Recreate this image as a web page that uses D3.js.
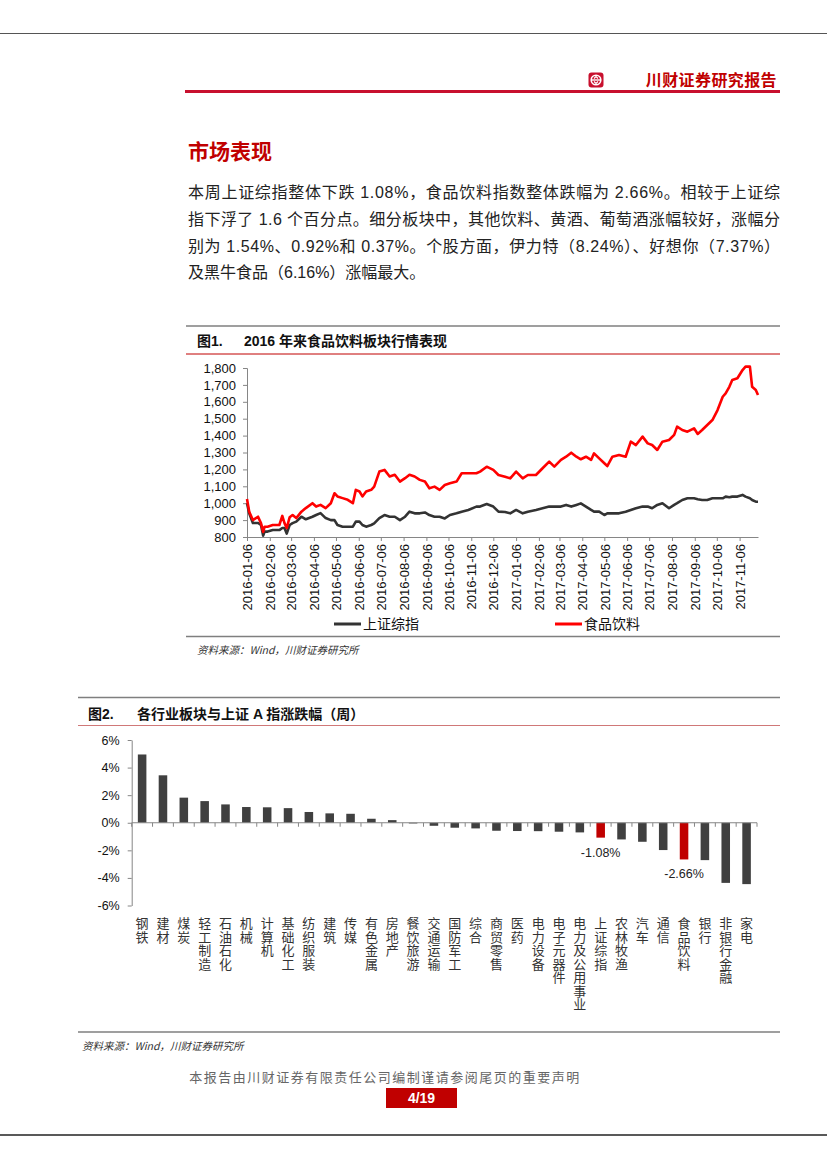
<!DOCTYPE html>
<html>
<head>
<meta charset="utf-8">
<script src="https://cdn.jsdelivr.net/npm/d3@7"></script>
<style>
  body { margin: 0; background: #fff; }
  svg text { font-family: "Liberation Sans", "Noto Sans CJK SC", sans-serif; }
  .vlabel { writing-mode: vertical-rl; text-orientation: upright; }
</style>
</head>
<body>
<svg id="page" width="827" height="1169"></svg>
<script>
// ---- 图1 数据：2016年来 上证综指 / 食品饮料 ----
const dates = [
  '2016-01-06','2016-01-09','2016-01-14','2016-01-21','2016-01-25','2016-01-28','2016-01-30','2016-02-03',
  '2016-02-10','2016-02-19','2016-02-23','2016-02-26','2016-02-29','2016-03-04','2016-03-08','2016-03-13',
  '2016-03-20','2016-03-26','2016-04-04','2016-04-09','2016-04-15','2016-04-22','2016-04-29','2016-05-04',
  '2016-05-08','2016-05-15','2016-05-22','2016-05-29','2016-06-02','2016-06-07','2016-06-11','2016-06-16',
  '2016-06-23','2016-06-27','2016-07-04','2016-07-11','2016-07-18','2016-07-25','2016-08-01','2016-08-08',
  '2016-08-14','2016-08-21','2016-08-28','2016-09-04','2016-09-10','2016-09-17','2016-09-24','2016-10-01',
  '2016-10-08','2016-10-17','2016-10-24','2016-11-02','2016-11-13','2016-11-18','2016-11-27','2016-12-06',
  '2016-12-13','2016-12-22','2016-12-29','2017-01-06','2017-01-15','2017-01-22','2017-02-02','2017-02-11',
  '2017-02-20','2017-02-27','2017-03-08','2017-03-15','2017-03-22','2017-03-29','2017-04-04','2017-04-11',
  '2017-04-18','2017-04-22','2017-04-29','2017-05-06','2017-05-10','2017-05-17','2017-05-26','2017-06-04',
  '2017-06-11','2017-06-18','2017-06-27','2017-07-04','2017-07-10','2017-07-17','2017-07-24','2017-08-02',
  '2017-08-09','2017-08-13','2017-08-20','2017-08-27','2017-09-05','2017-09-10','2017-09-16','2017-09-23',
  '2017-09-30','2017-10-07','2017-10-14','2017-10-18','2017-10-23','2017-10-27','2017-11-03','2017-11-10',
  '2017-11-14','2017-11-20','2017-11-23','2017-11-28','2017-12-01'
];
const szIndex = [
  1000, 940, 883, 883, 871, 808, 832, 832, 841, 841, 853, 853, 820, 871, 882, 891,
  920, 905, 920, 930, 941, 912, 900, 900, 871, 861, 861, 861, 891, 891, 871, 861,
  871, 881, 912, 930, 920, 920, 900, 920, 950, 940, 940, 945, 930, 920, 920, 910,
  930, 940, 950, 960, 980, 980, 995, 980, 950, 948, 940, 960, 940, 950, 960, 970,
  980, 980, 980, 990, 980, 990, 999, 980, 960, 950, 950, 930, 940, 940, 940, 950,
  960, 970, 980, 980, 970, 990, 1000, 970, 990, 1000, 1019, 1029, 1029, 1023, 1019, 1019,
  1029, 1029, 1029, 1039, 1035, 1039, 1039, 1049, 1039, 1029, 1019, 1009, 1009
];
const fbIndex = [
  1025, 950, 900, 920, 882, 830, 861, 861, 871, 871, 925, 882, 853, 917, 930, 912,
  950, 971, 1000, 980, 990, 971, 1000, 1059, 1040, 1030, 1020, 1000, 1079, 1069, 1040, 1069,
  1079, 1098, 1187, 1197, 1158, 1168, 1128, 1148, 1168, 1158, 1138, 1128, 1088, 1098, 1079, 1108,
  1118, 1128, 1177, 1177, 1177, 1187, 1216, 1197, 1167, 1157, 1147, 1187, 1147, 1167, 1167, 1207,
  1246, 1216, 1256, 1275, 1299, 1275, 1260, 1275, 1256, 1295, 1265, 1236, 1220, 1275, 1285, 1275,
  1364, 1344, 1394, 1354, 1344, 1315, 1364, 1374, 1404, 1453, 1433, 1423, 1443, 1410, 1433, 1463,
  1492, 1551, 1630, 1650, 1689, 1729, 1739, 1788, 1808, 1808, 1689, 1670, 1640
];
const dateTicks = [
  '2016-01-06','2016-02-06','2016-03-06','2016-04-06','2016-05-06','2016-06-06','2016-07-06','2016-08-06',
  '2016-09-06','2016-10-06','2016-11-06','2016-12-06','2017-01-06','2017-02-06','2017-03-06','2017-04-06',
  '2017-05-06','2017-06-06','2017-07-06','2017-08-06','2017-09-06','2017-10-06','2017-11-06'
];
const lineTicks = [800, 900, 1000, 1100, 1200, 1300, 1400, 1500, 1600, 1700, 1800];
const seriesNames = ['上证综指', '食品饮料'];

// ---- 图2 数据：各行业板块周涨跌幅 (%) ----
const industries = ['钢铁','建材','煤炭','轻工制造','石油石化','机械','计算机','基础化工','纺织服装','建筑',
  '传媒','有色金属','房地产','餐饮旅游','交通运输','国防军工','综合','商贸零售','医药','电力设备',
  '电子元器件','电力及公用事业','上证综指','农林牧渔','汽车','通信','食品饮料','银行','非银行金融','家电'];
const weeklyChange = [4.95, 3.44, 1.82, 1.57, 1.33, 1.14, 1.12, 1.06, 0.78, 0.68,
  0.65, 0.29, 0.19, -0.05, -0.22, -0.36, -0.41, -0.58, -0.60, -0.61,
  -0.65, -0.70, -1.08, -1.21, -1.38, -1.98, -2.66, -2.71, -4.36, -4.45];
const highlighted = ['上证综指', '食品饮料'];
const barTicks = [-6, -4, -2, 0, 2, 4, 6];

const svg = d3.select('#page');
const RED = '#c00000';

// ---------- 页眉 ----------
svg.append('line').attr('x1', 0).attr('x2', 827).attr('y1', 33.5).attr('y2', 33.5)
  .attr('stroke', '#555').attr('stroke-width', 1);
const logo = svg.append('g').attr('transform', 'translate(596,80)');
logo.append('rect').attr('x', -7.5).attr('y', -7.5).attr('width', 15).attr('height', 15).attr('rx', 3).attr('fill', '#c8102e');
logo.append('circle').attr('r', 4.8).attr('fill', 'none').attr('stroke', '#fff').attr('stroke-width', 1.6);
logo.append('line').attr('x1', -4.5).attr('x2', 4.5).attr('stroke', '#fff').attr('stroke-width', 1.4);
logo.append('path').attr('d', 'M-2,-1.5 L0,-3.5 L2,-1.5 M-2,1.5 L0,3.5 L2,1.5').attr('fill', 'none').attr('stroke', '#fff').attr('stroke-width', 1.2);
svg.append('text').attr('x', 777).attr('y', 86).attr('text-anchor', 'end')
  .attr('font-size', 16).attr('font-weight', 'bold').attr('fill', RED)
  .attr('letter-spacing', 0.4).text('川财证券研究报告');
svg.append('rect').attr('x', 185).attr('y', 90).attr('width', 595).attr('height', 3).attr('fill', '#c8102e');

// ---------- 正文 ----------
svg.append('text').attr('x', 188).attr('y', 159).attr('font-size', 21).attr('font-weight', 'bold')
  .attr('fill', RED).text('市场表现');
const para = [
  '本周上证综指整体下跌 1.08%，食品饮料指数整体跌幅为 2.66%。相较于上证综',
  '指下浮了 1.6 个百分点。细分板块中，其他饮料、黄酒、葡萄酒涨幅较好，涨幅分',
  '别为 1.54%、0.92%和 0.37%。个股方面，伊力特（8.24%）、好想你（7.37%）',
  '及黑牛食品（6.16%）涨幅最大。'
];
para.forEach((t, i) => {
  const tx = svg.append('text').attr('x', 188).attr('y', 198 + i * 26.8)
    .attr('font-size', 16).attr('fill', '#222').text(t);
  if (i < 3) tx.attr('textLength', 592).attr('lengthAdjust', 'spacing');
});

// ---------- 图1 ----------
svg.append('line').attr('x1', 186).attr('x2', 780).attr('y1', 326).attr('y2', 326).attr('stroke', '#7f7f7f').attr('stroke-width', 1.5);
svg.append('text').attr('x', 197).attr('y', 346).attr('font-size', 14).attr('font-weight', 'bold').attr('fill', '#111').text('图1.');
svg.append('text').attr('x', 244).attr('y', 346).attr('font-size', 14).attr('font-weight', 'bold').attr('fill', '#111').text('2016 年来食品饮料板块行情表现');
svg.append('line').attr('x1', 186).attr('x2', 780).attr('y1', 354).attr('y2', 354).attr('stroke', RED).attr('stroke-width', 1);

const parse = d3.timeParse('%Y-%m-%d');
const x1 = d3.scaleTime().domain([parse('2016-01-06'), parse('2017-12-01')]).range([247, 758]);
const y1 = d3.scaleLinear().domain([800, 1800]).range([537, 368]);

const gy1 = svg.append('g').attr('transform', 'translate(247,0)')
  .call(d3.axisLeft(y1).tickValues(lineTicks).tickFormat(d3.format(',')).tickSize(4).tickPadding(7));
const gx1 = svg.append('g').attr('transform', 'translate(0,537)')
  .call(d3.axisBottom(x1).tickValues(dateTicks.map(parse)).tickFormat(d3.timeFormat('%Y-%m-%d')).tickSize(4).tickSizeOuter(0));
gx1.selectAll('text').attr('transform', 'rotate(-90)').attr('text-anchor', 'end')
  .attr('x', -7).attr('y', 0).attr('dy', '0.36em');
[gy1, gx1].forEach(g => {
  g.selectAll('path, line').attr('stroke', '#868686');
  g.selectAll('text').attr('font-size', 13).attr('fill', '#111')
    .style('font-family', '"Liberation Sans", sans-serif');
});

const series = [
  {name: seriesNames[0], values: szIndex, color: '#333333'},
  {name: seriesNames[1], values: fbIndex, color: '#ff0000'}
];
const line = d3.line().x((d, i) => x1(parse(dates[i]))).y(d => y1(d)).curve(d3.curveLinear);
series.forEach(s => {
  svg.append('path').datum(s.values).attr('d', line)
    .attr('fill', 'none').attr('stroke', s.color).attr('stroke-width', 2.6).attr('stroke-linejoin', 'round');
});

// 图例
const legendX = [334, 555];
series.forEach((s, i) => {
  svg.append('line').attr('x1', legendX[i]).attr('x2', legendX[i] + 27).attr('y1', 624).attr('y2', 624)
    .attr('stroke', s.color).attr('stroke-width', 3);
  svg.append('text').attr('x', legendX[i] + 29).attr('y', 629).attr('font-size', 14).attr('fill', '#111')
    .style('font-family', '"Noto Sans CJK SC", sans-serif').text(s.name);
});
svg.append('line').attr('x1', 186).attr('x2', 780).attr('y1', 636.5).attr('y2', 636.5).attr('stroke', '#7f7f7f').attr('stroke-width', 1.5);
svg.append('text').attr('x', 197).attr('y', 654).attr('font-size', 10.5).attr('font-style', 'italic').attr('fill', '#333')
  .style('font-family', '"Noto Sans CJK SC", sans-serif').text('资料来源：Wind，川财证券研究所');

// ---------- 图2 ----------
svg.append('line').attr('x1', 78).attr('x2', 780).attr('y1', 697.5).attr('y2', 697.5).attr('stroke', '#7f7f7f').attr('stroke-width', 1.5);
svg.append('text').attr('x', 88).attr('y', 719).attr('font-size', 14).attr('font-weight', 'bold').attr('fill', '#111').text('图2.');
svg.append('text').attr('x', 137).attr('y', 719).attr('font-size', 14).attr('font-weight', 'bold').attr('fill', '#111').text('各行业板块与上证 A 指涨跌幅（周）');
svg.append('line').attr('x1', 78).attr('x2', 780).attr('y1', 725.5).attr('y2', 725.5).attr('stroke', '#d07878').attr('stroke-width', 1);

const x2 = d3.scaleBand().domain(industries).range([131.7, 757]).paddingInner(0.59).paddingOuter(0.295);
const y2 = d3.scaleLinear().domain([-6, 6]).range([905.5, 740]);

const gy2 = svg.append('g').attr('transform', 'translate(131.7,0)')
  .call(d3.axisLeft(y2).tickValues(barTicks).tickFormat(d => d + '%').tickSize(4).tickPadding(8).tickSizeOuter(0));
gy2.selectAll('path, line').attr('stroke', '#868686');
gy2.selectAll('text').attr('font-size', 12.5).attr('fill', '#111');

svg.append('g').selectAll('rect').data(industries).enter().append('rect')
  .attr('x', d => x2(d))
  .attr('width', x2.bandwidth())
  .attr('y', (d, i) => y2(Math.max(0, weeklyChange[i])))
  .attr('height', (d, i) => Math.abs(y2(weeklyChange[i]) - y2(0)))
  .attr('fill', d => highlighted.includes(d) ? RED : '#404040');

// 零轴及分类刻度
const zeroY = y2(0);
svg.append('line').attr('x1', 131.7).attr('x2', 757).attr('y1', zeroY).attr('y2', zeroY).attr('stroke', '#868686');
svg.append('g').selectAll('line').data(d3.range(industries.length + 1)).enter().append('line')
  .attr('x1', i => 131.7 + i * x2.step()).attr('x2', i => 131.7 + i * x2.step())
  .attr('y1', zeroY).attr('y2', zeroY + 4).attr('stroke', '#868686');

// 数据标签
highlighted.forEach(name => {
  const i = industries.indexOf(name);
  svg.append('text').attr('x', x2(name) + x2.bandwidth() / 2).attr('y', y2(weeklyChange[i]) + 19)
    .attr('text-anchor', 'middle').attr('font-size', 12.5).attr('fill', '#222')
    .text(weeklyChange[i].toFixed(2) + '%');
});

// 竖排分类标签
svg.append('g').selectAll('text').data(industries).enter().append('text')
  .attr('class', 'vlabel')
  .attr('x', d => x2(d) + x2.bandwidth() / 2)
  .attr('y', 917)
  .attr('font-size', 13)
  .attr('letter-spacing', 0.5)
  .attr('fill', '#333')
  .style('font-family', '"Noto Sans CJK SC", sans-serif')
  .text(d => d);

svg.append('line').attr('x1', 78).attr('x2', 780).attr('y1', 1032).attr('y2', 1032).attr('stroke', '#7f7f7f').attr('stroke-width', 1.5);
svg.append('text').attr('x', 82).attr('y', 1050).attr('font-size', 10.5).attr('font-style', 'italic').attr('fill', '#333')
  .style('font-family', '"Noto Sans CJK SC", sans-serif').text('资料来源：Wind，川财证券研究所');

// ---------- 页脚 ----------
svg.append('text').attr('x', 385).attr('y', 1082).attr('text-anchor', 'middle').attr('font-size', 13)
  .attr('letter-spacing', 1.5).attr('fill', '#666')
  .style('font-family', '"Noto Sans CJK SC", sans-serif').text('本报告由川财证券有限责任公司编制谨请参阅尾页的重要声明');
svg.append('rect').attr('x', 386).attr('y', 1088).attr('width', 71).attr('height', 20).attr('fill', RED);
svg.append('text').attr('x', 421.5).attr('y', 1103).attr('text-anchor', 'middle').attr('font-size', 14)
  .attr('font-weight', 'bold').attr('fill', '#fff').text('4/19');
svg.append('line').attr('x1', 0).attr('x2', 827).attr('y1', 1135).attr('y2', 1135).attr('stroke', '#222').attr('stroke-width', 1.5);
</script>
</body>
</html>
